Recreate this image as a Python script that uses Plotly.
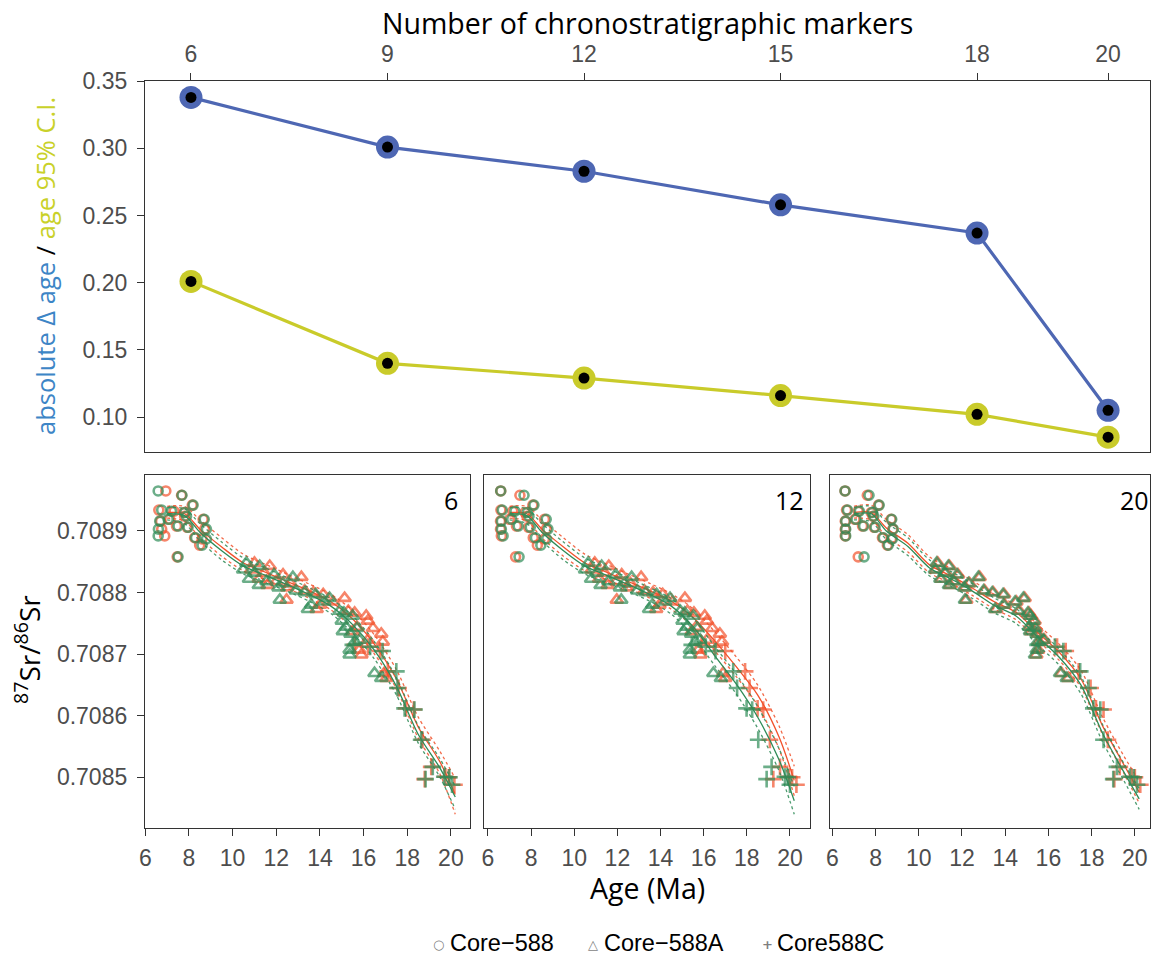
import plotly.graph_objects as go

# ---- upper panel: accuracy vs number of chronostratigraphic markers ----
n_markers = [6, 9, 12, 15, 18, 20]
abs_delta_age = [0.338, 0.301, 0.283, 0.258, 0.237, 0.105]
age_ci95 = [0.201, 0.140, 0.129, 0.116, 0.102, 0.085]

# ---- lower panels: 87Sr/86Sr against modelled age ----
# Core-588 (circles)
sr_588 = [0.708965, 0.708958, 0.708942, 0.708934, 0.708932, 0.708930, 0.708924, 0.708919, 0.708919, 0.708916,
          0.708908, 0.708906, 0.708903, 0.708903, 0.708892, 0.708889, 0.708887, 0.708877, 0.708858]
age_588_6_red = [6.94, 7.66, 8.15, 6.62, 7.32, 7.78, 7.80, 7.12, 8.65, 6.70, 7.43, 7.92, 8.72, 6.75, 6.89, 8.26, 8.60, 8.49, 7.46]
age_588_6_green = [6.59, 7.68, 8.19, 6.75, 7.20, 7.81, 7.89, 7.05, 8.70, 6.66, 7.50, 7.96, 8.80, 6.60, 6.59, 8.30, 8.80, 8.60, 7.50]
age_588_12_red = [6.59, 7.48, 8.08, 6.60, 7.15, 7.72, 7.80, 7.00, 8.62, 6.58, 7.32, 7.88, 8.70, 6.58, 6.62, 8.10, 8.62, 8.29, 7.28]
age_588_12_green = [6.59, 7.67, 8.13, 6.66, 7.25, 7.82, 7.90, 7.10, 8.70, 6.62, 7.40, 7.96, 8.78, 6.62, 6.70, 8.20, 8.72, 8.45, 7.44]
age_588_20_red = [6.59, 7.62, 8.14, 6.66, 7.20, 7.80, 7.88, 7.05, 8.72, 6.60, 7.40, 7.94, 8.80, 6.60, 6.60, 8.32, 8.74, 8.55, 7.20]
age_588_20_green = [6.59, 7.70, 8.17, 6.70, 7.25, 7.85, 7.92, 7.10, 8.75, 6.62, 7.45, 7.98, 8.82, 6.62, 6.62, 8.36, 8.78, 8.59, 7.47]

# Core-588A (triangles)
sr_588A = [0.708848, 0.708843, 0.708837, 0.708832, 0.708829, 0.708825, 0.708822, 0.708818, 0.708815, 0.708812,
           0.708808, 0.708803, 0.708800, 0.708797, 0.708791, 0.708788, 0.708785, 0.708780, 0.708773, 0.708770,
           0.708767, 0.708762, 0.708754, 0.708744, 0.708742, 0.708737, 0.708733, 0.708723, 0.708720, 0.708707,
           0.708699, 0.708669, 0.708661]
age_588A_6_red = [11.00, 11.70, 10.85, 11.45, 12.31, 13.15, 11.20, 12.00, 12.65, 11.60, 12.50, 13.30, 13.70, 14.15,
                  15.13, 12.47, 14.60, 14.00, 13.85, 15.30, 15.59, 16.12, 16.20, 15.70, 16.43, 15.50, 16.81, 16.20,
                  16.88, 15.80, 15.90, 16.95, 17.05]
age_588A_6_green = [10.63, 11.24, 10.48, 11.00, 11.90, 12.76, 10.75, 11.55, 12.30, 11.20, 12.10, 12.90, 13.30, 13.80,
                    14.44, 12.16, 14.20, 13.60, 13.45, 14.90, 15.10, 15.50, 15.00, 15.20, 15.70, 15.05, 15.40, 15.82,
                    15.60, 15.36, 15.36, 16.50, 16.81]
age_588A_12_red = [10.95, 11.60, 10.80, 11.40, 12.20, 13.10, 11.15, 11.95, 12.60, 11.55, 12.45, 13.25, 13.65, 14.10,
                   15.13, 11.97, 14.55, 13.95, 13.80, 15.25, 15.55, 16.05, 16.15, 15.65, 16.40, 15.45, 16.75, 16.15,
                   16.85, 15.75, 15.85, 16.90, 17.00]
age_588A_12_green = [10.65, 11.27, 10.50, 11.05, 11.92, 12.66, 10.78, 11.58, 12.32, 11.22, 12.12, 12.92, 13.32, 13.82,
                     14.44, 12.18, 14.22, 13.62, 13.47, 14.92, 15.12, 15.52, 15.02, 15.22, 15.72, 15.07, 15.42, 15.84,
                     15.62, 15.36, 15.36, 16.45, 16.80]
age_588A_20_red = [10.88, 11.42, 10.80, 11.25, 11.82, 12.82, 11.05, 11.65, 12.35, 11.45, 12.15, 13.05, 13.45, 13.95,
                   14.90, 12.20, 14.52, 13.98, 13.58, 14.66, 15.10, 15.20, 15.36, 15.16, 15.44, 15.20, 15.50, 15.82,
                   15.56, 15.52, 15.44, 16.60, 16.92]
age_588A_20_green = [10.83, 11.37, 10.75, 11.20, 11.77, 12.76, 11.00, 11.60, 12.30, 11.40, 12.10, 13.00, 13.40, 13.90,
                     14.84, 12.14, 14.46, 13.92, 13.53, 14.60, 15.05, 15.15, 15.31, 15.10, 15.38, 15.15, 15.45, 15.77,
                     15.50, 15.46, 15.38, 16.54, 16.85]

# Core588C (crosses)
sr_588C = [0.708715, 0.708712, 0.708705, 0.708672, 0.708645, 0.708612, 0.708610, 0.708561, 0.708517, 0.708501,
           0.708500, 0.708497, 0.708488]
age_588C_6_red = [15.60, 16.20, 16.75, 17.11, 17.60, 17.95, 18.30, 18.70, 19.10, 19.75, 19.90, 18.80, 20.16]
age_588C_6_green = [15.51, 16.30, 16.87, 17.50, 17.55, 17.88, 18.33, 18.64, 19.17, 19.70, 19.93, 18.84, 20.05]
age_588C_12_red = [15.90, 16.50, 17.00, 17.92, 18.13, 18.50, 18.76, 19.07, 19.54, 19.95, 20.10, 19.23, 20.30]
age_588C_12_green = [15.45, 16.10, 16.55, 17.37, 17.55, 17.99, 18.25, 18.53, 19.15, 19.77, 19.90, 18.92, 20.00]
age_588C_20_red = [15.60, 16.40, 16.80, 17.40, 17.95, 18.20, 18.55, 18.75, 19.30, 19.85, 20.00, 19.05, 20.25]
age_588C_20_green = [15.50, 16.30, 16.69, 17.47, 17.85, 18.08, 18.40, 18.55, 19.17, 19.78, 19.95, 19.00, 20.10]

# fitted curves (median and 95% envelope) on a common age grid
fit_age = [7.0, 7.8, 8.5, 9.5, 10.5, 11.5, 12.5, 13.5, 14.5, 15.5, 16.5, 17.5, 18.5, 19.5, 20.2]
fit_6_red_mid = [0.708930, 0.708928, 0.708903, 0.708874, 0.708848, 0.708833, 0.708818, 0.708803, 0.708785, 0.708757, 0.708716, 0.708660, 0.708582, 0.708525, 0.708472]
fit_6_red_lo = [0.708921, 0.708916, 0.708889, 0.708859, 0.708835, 0.708821, 0.708807, 0.708791, 0.708772, 0.708742, 0.708700, 0.708644, 0.708564, 0.708505, 0.708440]
fit_6_red_hi = [0.708940, 0.708940, 0.708918, 0.708889, 0.708862, 0.708846, 0.708830, 0.708814, 0.708797, 0.708771, 0.708731, 0.708675, 0.708598, 0.708542, 0.708498]
fit_6_green_mid = [0.708928, 0.708925, 0.708898, 0.708868, 0.708843, 0.708828, 0.708813, 0.708797, 0.708778, 0.708748, 0.708706, 0.708648, 0.708570, 0.708515, 0.708468]
fit_6_green_lo = [0.708918, 0.708912, 0.708884, 0.708853, 0.708830, 0.708816, 0.708802, 0.708786, 0.708766, 0.708734, 0.708692, 0.708634, 0.708556, 0.708500, 0.708448]
fit_6_green_hi = [0.708938, 0.708936, 0.708912, 0.708882, 0.708856, 0.708840, 0.708824, 0.708808, 0.708790, 0.708762, 0.708720, 0.708662, 0.708584, 0.708530, 0.708485]

fit_12_red_mid = [0.708930, 0.708928, 0.708903, 0.708874, 0.708848, 0.708833, 0.708818, 0.708803, 0.708786, 0.708760, 0.708722, 0.708680, 0.708634, 0.708565, 0.708495]
fit_12_red_lo = [0.708921, 0.708916, 0.708889, 0.708859, 0.708835, 0.708821, 0.708807, 0.708791, 0.708773, 0.708745, 0.708706, 0.708664, 0.708617, 0.708546, 0.708470]
fit_12_red_hi = [0.708940, 0.708940, 0.708918, 0.708889, 0.708862, 0.708846, 0.708830, 0.708815, 0.708798, 0.708774, 0.708737, 0.708696, 0.708650, 0.708583, 0.708518]
fit_12_green_mid = [0.708928, 0.708925, 0.708898, 0.708868, 0.708843, 0.708828, 0.708813, 0.708797, 0.708778, 0.708745, 0.708698, 0.708652, 0.708598, 0.708528, 0.708462]
fit_12_green_lo = [0.708918, 0.708912, 0.708884, 0.708853, 0.708830, 0.708816, 0.708802, 0.708786, 0.708765, 0.708730, 0.708682, 0.708636, 0.708580, 0.708510, 0.708440]
fit_12_green_hi = [0.708938, 0.708936, 0.708912, 0.708882, 0.708856, 0.708840, 0.708824, 0.708808, 0.708790, 0.708759, 0.708713, 0.708668, 0.708615, 0.708546, 0.708485]

fit_20_red_mid = [0.708930, 0.708930, 0.708905, 0.708880, 0.708845, 0.708827, 0.708807, 0.708785, 0.708768, 0.708735, 0.708703, 0.708660, 0.708584, 0.708520, 0.708476]
fit_20_red_lo = [0.708921, 0.708918, 0.708891, 0.708866, 0.708832, 0.708815, 0.708795, 0.708773, 0.708756, 0.708722, 0.708690, 0.708646, 0.708570, 0.708506, 0.708458]
fit_20_red_hi = [0.708940, 0.708942, 0.708919, 0.708894, 0.708858, 0.708839, 0.708819, 0.708797, 0.708780, 0.708748, 0.708716, 0.708674, 0.708598, 0.708534, 0.708494]
fit_20_green_mid = [0.708928, 0.708928, 0.708900, 0.708875, 0.708840, 0.708822, 0.708802, 0.708779, 0.708762, 0.708728, 0.708695, 0.708650, 0.708572, 0.708508, 0.708465]
fit_20_green_lo = [0.708918, 0.708915, 0.708886, 0.708860, 0.708827, 0.708810, 0.708790, 0.708767, 0.708750, 0.708715, 0.708682, 0.708636, 0.708558, 0.708494, 0.708448]
fit_20_green_hi = [0.708938, 0.708940, 0.708914, 0.708889, 0.708853, 0.708834, 0.708814, 0.708791, 0.708774, 0.708741, 0.708708, 0.708664, 0.708586, 0.708522, 0.708482]

panel_labels = ["6", "12", "20"]
x_ticks = [6, 8, 10, 12, 14, 16, 18, 20]
sr_ticks = [0.7085, 0.7086, 0.7087, 0.7088, 0.7089]
core_names = ["Core\u2212588", "Core\u2212588A", "Core588C"]
core_keys = ["\u25CB", "\u25B3", "+"]

# ---- styling ----
BLUE = "#4E67B3"
YELLOW = "#C9CB2A"
RED = "#F2512B"
GREEN = "#2E8B57"
AXIS = "#333333"
TICKFONT = dict(family="Liberation Sans, Arial, sans-serif", size=23, color="#4D4D4D")
TITLEFONT = "Open Sans, Noto Sans, sans-serif"

fig = go.Figure()

# upper panel
for vals, col in [(abs_delta_age, BLUE), (age_ci95, YELLOW)]:
    fig.add_trace(go.Scatter(x=n_markers, y=vals, mode="lines+markers", xaxis="x", yaxis="y",
                             line=dict(color=col, width=3.2),
                             marker=dict(color=col, size=23), showlegend=False, hoverinfo="skip"))
    fig.add_trace(go.Scatter(x=n_markers, y=vals, mode="markers", xaxis="x", yaxis="y",
                             marker=dict(color="black", size=11), showlegend=False, hoverinfo="skip"))

# lower panels
panels = [
    ("x2", "y2",
     {"red": (age_588_6_red, age_588A_6_red, age_588C_6_red, fit_6_red_mid, fit_6_red_lo, fit_6_red_hi),
      "green": (age_588_6_green, age_588A_6_green, age_588C_6_green, fit_6_green_mid, fit_6_green_lo, fit_6_green_hi)}),
    ("x3", "y3",
     {"red": (age_588_12_red, age_588A_12_red, age_588C_12_red, fit_12_red_mid, fit_12_red_lo, fit_12_red_hi),
      "green": (age_588_12_green, age_588A_12_green, age_588C_12_green, fit_12_green_mid, fit_12_green_lo, fit_12_green_hi)}),
    ("x4", "y4",
     {"red": (age_588_20_red, age_588A_20_red, age_588C_20_red, fit_20_red_mid, fit_20_red_lo, fit_20_red_hi),
      "green": (age_588_20_green, age_588A_20_green, age_588C_20_green, fit_20_green_mid, fit_20_green_lo, fit_20_green_hi)}),
]
colors = {"red": RED, "green": GREEN}

for xa, ya, series in panels:
    for key in ["red", "green"]:
        col = colors[key]
        a588, a588A, a588C, mid, lo, hi = series[key]
        for ages, srs, sym, size in [(a588, sr_588, "circle-open", 9),
                                     (a588A, sr_588A, "triangle-up-open", 11),
                                     (a588C, sr_588C, "cross-thin-open", 12)]:
            fig.add_trace(go.Scatter(x=ages, y=srs, mode="markers", xaxis=xa, yaxis=ya,
                                     marker=dict(symbol=sym, size=size, color=col, opacity=0.7,
                                                 line=dict(width=2.6, color=col)),
                                     showlegend=False, hoverinfo="skip"))
        fig.add_trace(go.Scatter(x=fit_age, y=mid, mode="lines", xaxis=xa, yaxis=ya,
                                 line=dict(color=col, width=1.3, shape="spline", smoothing=0.8),
                                 showlegend=False, hoverinfo="skip"))
        for band in (lo, hi):
            fig.add_trace(go.Scatter(x=fit_age, y=band, mode="lines", xaxis=xa, yaxis=ya,
                                     line=dict(color=col, width=1.3, dash="dot", shape="spline", smoothing=0.8),
                                     opacity=0.85, showlegend=False, hoverinfo="skip"))

H = 955.0
W = 1152.0
top_dom = [1 - 452 / H, 1 - 81 / H]
bot_dom = [1 - 828 / H, 1 - 475 / H]

box = dict(showline=True, linecolor=AXIS, linewidth=1.3, mirror=True, showgrid=False, zeroline=False,
           ticks="outside", ticklen=7, tickwidth=1.3, tickcolor=AXIS, tickfont=TICKFONT, automargin=False)
ybox = dict(box, ticklabelstandoff=5)
xbox = dict(box, ticklabelstandoff=2)
yblank = dict(box, ticks="", showticklabels=False)

layout = dict(
    width=1152, height=955, margin=dict(l=0, r=0, t=0, b=0, autoexpand=False),
    paper_bgcolor="white", plot_bgcolor="white", showlegend=False,
    xaxis=dict(domain=[145 / W, 1150 / W], anchor="y", side="top", range=[5.298, 20.64],
               tickvals=n_markers, **xbox),
    yaxis=dict(domain=top_dom, anchor="x", range=[0.07396, 0.3502],
               tickvals=[0.10, 0.15, 0.20, 0.25, 0.30, 0.35], tickformat=".2f", **ybox),
    xaxis2=dict(domain=[145 / W, 470 / W], anchor="y2", range=[5.986, 20.875], tickvals=x_ticks, **xbox),
    yaxis2=dict(domain=bot_dom, anchor="x2", range=[0.7084177, 0.7089909], tickvals=sr_ticks,
                tickformat=".4f", **ybox),
    xaxis3=dict(domain=[484 / W, 810 / W], anchor="y3", range=[5.815, 20.93], tickvals=x_ticks, **xbox),
    yaxis3=dict(domain=bot_dom, anchor="x3", range=[0.7084177, 0.7089909], **yblank),
    xaxis4=dict(domain=[830 / W, 1150 / W], anchor="y4", range=[5.894, 20.70], tickvals=x_ticks, **xbox),
    yaxis4=dict(domain=bot_dom, anchor="x4", range=[0.7084177, 0.7089909], **yblank),
)
fig.update_layout(**layout)

ann = [
    dict(text="Number of chronostratigraphic markers", xref="paper", yref="paper",
         x=647 / W, y=1 - 23 / H, xanchor="center", yanchor="middle", showarrow=False,
         font=dict(family=TITLEFONT, size=28.5, color="black")),
    dict(text="<span style='color:#3D85C6'>absolute \u0394 age</span> / "
              "<span style='color:#C9D12A'>age 95% C.I.</span>",
         xref="paper", yref="paper", x=45 / W, y=1 - 266 / H, xanchor="center", yanchor="middle",
         textangle=-90, showarrow=False, font=dict(family=TITLEFONT, size=25.5, color="black")),
    dict(text="<sup>87</sup>Sr/<sup>86</sup>Sr", xref="paper", yref="paper", x=27 / W, y=1 - 650 / H,
         xanchor="center", yanchor="middle", textangle=-90, showarrow=False,
         font=dict(family=TITLEFONT, size=28, color="black")),
    dict(text="Age (Ma)", xref="paper", yref="paper", x=647 / W, y=1 - 888 / H,
         xanchor="center", yanchor="middle", showarrow=False,
         font=dict(family=TITLEFONT, size=28.5, color="black")),
]
for (xa, ya, _), lab in zip(panels, panel_labels):
    ann.append(dict(text=lab, xref=xa, yref=ya, x=20, y=0.70895, xanchor="center", yanchor="middle",
                    showarrow=False, font=dict(family=TITLEFONT, size=25, color="black")))

# key for the three cores: grey symbol followed by the core name
key_sym_x = [438, 593, 767]
key_txt_x = [448, 602, 775]
for sx, tx, sym, name in zip(key_sym_x, key_txt_x, core_keys, core_names):
    ann.append(dict(text="<b>" + sym + "</b>", xref="paper", yref="paper", x=sx / W, y=1 - 944 / H,
                    xanchor="center", yanchor="middle", showarrow=False,
                    font=dict(family="DejaVu Sans, sans-serif", size=13, color="#7F7F7F")))
    ann.append(dict(text=name, xref="paper", yref="paper", x=tx / W, y=1 - 943 / H,
                    xanchor="left", yanchor="middle", showarrow=False,
                    font=dict(family="Liberation Sans, Arial, sans-serif", size=23.5, color="black")))
fig.update_layout(annotations=ann)

fig.write_html("out.html")
